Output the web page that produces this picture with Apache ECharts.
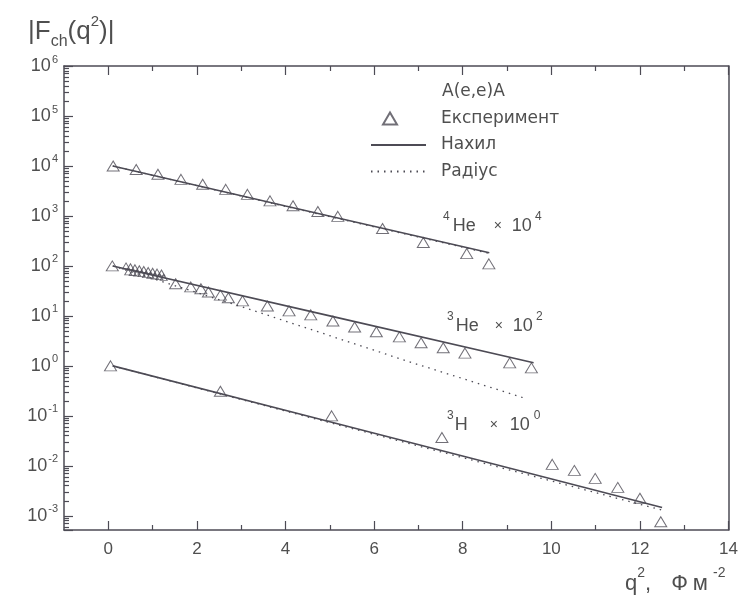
<!DOCTYPE html>
<html lang="uk">
<head>
<meta charset="UTF-8">
<title>Зарядові формфактори</title>
<style>
  html, body { margin: 0; padding: 0; background: #fff; }
  #chart { width: 741px; height: 598px; }
</style>
<script src="https://cdn.jsdelivr.net/npm/echarts@6/dist/echarts.min.js"></script>
</head>
<body>
<div id="chart"></div>
<script>
// q^2 in fm^-2, |F_ch| already multiplied by the factor written next to each curve
var he4ExpQ = [0.11, 0.63, 1.12, 1.64, 2.13, 2.65, 3.14, 3.65, 4.17, 4.73, 5.18, 6.19, 7.11, 8.09, 8.59];
var he4ExpF = [1.0e4, 8.5e3, 6.8e3, 5.4e3, 4.3e3, 3.4e3, 2.7e3, 2.0e3, 1.6e3, 1.23e3, 980, 560, 295, 176, 110];
var he4SlopeQ = [0.1, 4.0, 8.6];
var he4SlopeF = [1.0e4, 1.58e3, 184];
var he4RadQ = [0.1, 4.0, 8.6];
var he4RadF = [1.0e4, 1.55e3, 178];

var he3ExpQ = [0.09, 1.52, 1.86, 2.09, 2.26, 2.53, 2.71, 3.03, 3.59, 4.08, 4.57, 5.07, 5.56, 6.05, 6.57, 7.06, 7.56, 8.05, 9.06, 9.55];
var he3ExpF = [100, 44, 38, 35, 30, 26, 23, 20, 15.8, 12.6, 10.5, 7.9, 6.0, 4.8, 3.8, 2.9, 2.3, 1.8, 1.15, 0.91];
// the crowded low-q points (drawn smaller)
var he3DenseQ = [0.40, 0.50, 0.60, 0.70, 0.80, 0.90, 1.00, 1.10, 1.20, 0.45, 0.55, 0.65, 0.75, 0.85, 0.95, 1.05, 1.15, 1.25];
var he3DenseF = [100, 96, 92, 88, 85, 81, 78, 75, 72, 76, 74, 72, 70, 67, 65, 63, 61, 59];
var he3SlopeQ = [0.1, 5.0, 9.6];
var he3SlopeF = [100, 10.0, 1.15];
var he3RadQ = [0.1, 3.16, 6.73, 9.44];
var he3RadF = [100, 13.8, 1.26, 0.22];

var h3ExpQ = [0.05, 2.53, 5.04, 7.53, 10.02, 10.52, 10.99, 11.5, 12.0, 12.47];
var h3ExpF = [1.0, 0.31, 0.10, 0.037, 0.0107, 0.0081, 0.0056, 0.0037, 0.00224, 0.00076];
var h3SlopeQ = [0.1, 5.0, 12.5];
var h3SlopeF = [1.0, 0.076, 0.00146];
var h3RadQ = [0.1, 5.0, 12.5];
var h3RadF = [1.0, 0.073, 0.0013];

var xMajor = [0, 2, 4, 6, 8, 10, 12, 14];
var xMinor = [1, 3, 5, 7, 9, 11, 13];
var yMajor = [1e-3, 1e-2, 1e-1, 1, 1e1, 1e2, 1e3, 1e4, 1e5, 1e6];

var yMin = 5.2e-4, yMax = 1e6;
var ink = '#4d4b55';
var txt = '#4f4f4f';
var fam = 'Liberation Sans';

// 2..9 x 10^n minor ticks of the log axis
var yMinor = [];
for (var n = -4; n < 6; n++) {
  for (var k = 2; k <= 9; k++) {
    var v = k * Math.pow(10, n);
    if (v > yMin && v < yMax) yMinor.push(+v.toPrecision(2));
  }
}

function pairs(q, f) {
  return q.map(function (x, i) { return [x, f[i]]; });
}

function expSeries(q, f, size) {
  return {
    name: 'Експеримент', type: 'scatter', symbol: 'triangle', symbolSize: size,
    data: pairs(q, f), z: 3,
    itemStyle: { color: 'rgba(255,255,255,0)', borderColor: ink, borderWidth: 1 }
  };
}
function slopeSeries(q, f) {
  return {
    name: 'Нахил', type: 'line', symbol: 'none', data: pairs(q, f),
    lineStyle: { color: ink, width: 1.6, type: 'solid' }, itemStyle: { color: ink }
  };
}
function radSeries(q, f) {
  return {
    name: 'Радіус', type: 'line', symbol: 'none', data: pairs(q, f),
    lineStyle: { color: ink, width: 1.3, type: [1.5, 5] }, itemStyle: { color: ink }
  };
}

var xBase = { type: 'value', min: -1, max: 14, splitLine: { show: false } };
var yBase = { type: 'log', logBase: 10, min: yMin, max: yMax, splitLine: { show: false }, minorTick: { show: false } };

function xAx(pos, ticks, len, line, labels) {
  return Object.assign({}, xBase, {
    position: pos,
    axisLine: { show: line, onZero: false, lineStyle: { color: ink, width: 1.5 } },
    axisTick: { show: true, inside: true, length: len, customValues: ticks, lineStyle: { color: ink, width: 1.2 } },
    axisLabel: labels ? { customValues: xMajor, color: txt, fontSize: 17, margin: 11, fontFamily: fam } : { show: false }
  });
}
function yAx(pos, ticks, len, line, labels) {
  var tick = { show: len > 0, inside: true, length: len, lineStyle: { color: ink, width: 1.2 } };
  if (ticks) tick.customValues = ticks;
  return Object.assign({}, yBase, {
    position: pos,
    axisLine: { show: line, onZero: false, lineStyle: { color: ink, width: 1.5 } },
    axisTick: tick,
    axisLabel: labels ? {
      customValues: yMajor, margin: 6,
      formatter: function (v) { return '{b|10}{s|' + Math.round(Math.log10(v)) + '}'; },
      rich: {
        b: { fontSize: 18, lineHeight: 34, color: txt, fontFamily: fam },
        s: { fontSize: 11, lineHeight: 14, verticalAlign: 'top', padding: [5, 0, 0, 1], color: txt, fontFamily: fam }
      }
    } : { show: false }
  });
}

function rt(size, lh, pad, va) {
  var s = { fontSize: size, lineHeight: lh, fill: txt, fontFamily: fam };
  if (pad) s.padding = [0, 0, 0, pad];
  if (va) s.verticalAlign = va;
  return s;
}

function annotation(left, top, text, padH, padX, padN, padE) {
  return {
    type: 'text', left: left, top: top,
    style: {
      text: text,
      rich: {
        s: rt(12, 12, 0, 'top'),
        h: rt(18, 30, padH),
        x: rt(14, 30, padX),
        n: rt(18, 30, padN),
        e: rt(12, 12, padE, 'top')
      }
    }
  };
}

var chart = echarts.init(document.getElementById('chart'));

chart.setOption({
  animation: false,
  backgroundColor: '#fff',
  grid: { left: 64, right: 10, top: 66, bottom: 68 },
  xAxis: [
    xAx('bottom', xMajor, 9, true, true),
    xAx('bottom', xMinor, 5, false, false),
    xAx('top', xMajor, 9, true, false),
    xAx('top', xMinor, 5, false, false)
  ],
  yAxis: [
    yAx('left', null, 9, true, true),
    yAx('left', yMinor, 5, false, false),
    yAx('right', null, 0, true, false)
  ],
  legend: {
    orient: 'vertical', left: 370, top: 110, padding: 0,
    itemWidth: 55, itemHeight: 12, itemGap: 9.5,
    data: [
      // small triangle sitting at the left of the 55px icon box
      { name: 'Експеримент', icon: 'path://M0,6M12,12L19,0L26,12Z M55,6' },
      { name: 'Нахил', itemStyle: { opacity: 0 } },
      { name: 'Радіус', itemStyle: { opacity: 0 } }
    ],
    textStyle: { fontSize: 17, color: txt, fontFamily: 'DejaVu Sans', padding: [0, 0, 0, 10] }
  },
  graphic: [
    {
      type: 'text', left: 28, top: 14,
      style: {
        text: '{m||F}{sub|ch}{m|(q}{sup|2}{m|)|}',
        rich: { m: rt(26, 36), sub: rt(16, 20, 0, 'bottom'), sup: rt(15, 26, 0, 'top') }
      }
    },
    {
      type: 'text', left: 625, top: 566,
      style: {
        text: '{m|q}{s|2}{m|,}{f|Ф}{g|м}{t|-2}',
        rich: { m: rt(22, 36), f: rt(22, 36, 20), g: rt(22, 36, 5), s: rt(14, 12, 0, 'top'), t: rt(14, 12, 5, 'top') }
      }
    },
    {
      type: 'text', left: 442, top: 83,
      style: { text: 'A(e,e)A', fontSize: 17, fontFamily: 'DejaVu Sans', fill: txt }
    },
    annotation(443, 211, '{s|4}{h|He}{x|×}{n|10}{e|4}', 3, 18, 10, 3),
    annotation(447, 311, '{s|3}{h|He}{x|×}{n|10}{e|2}', 2, 16, 10, 3),
    annotation(447, 410, '{s|3}{h|H}{x|×}{n|10}{e|0}', 1, 22, 12, 4)
  ],
  series: [
    expSeries(he4ExpQ, he4ExpF, [12, 10]),
    slopeSeries(he4SlopeQ, he4SlopeF),
    radSeries(he4RadQ, he4RadF),
    expSeries(he3ExpQ, he3ExpF, [12, 10]),
    expSeries(he3DenseQ, he3DenseF, [7, 6]),
    slopeSeries(he3SlopeQ, he3SlopeF),
    radSeries(he3RadQ, he3RadF),
    expSeries(h3ExpQ, h3ExpF, [12, 10]),
    slopeSeries(h3SlopeQ, h3SlopeF),
    radSeries(h3RadQ, h3RadF)
  ]
});
</script>
</body>
</html>
